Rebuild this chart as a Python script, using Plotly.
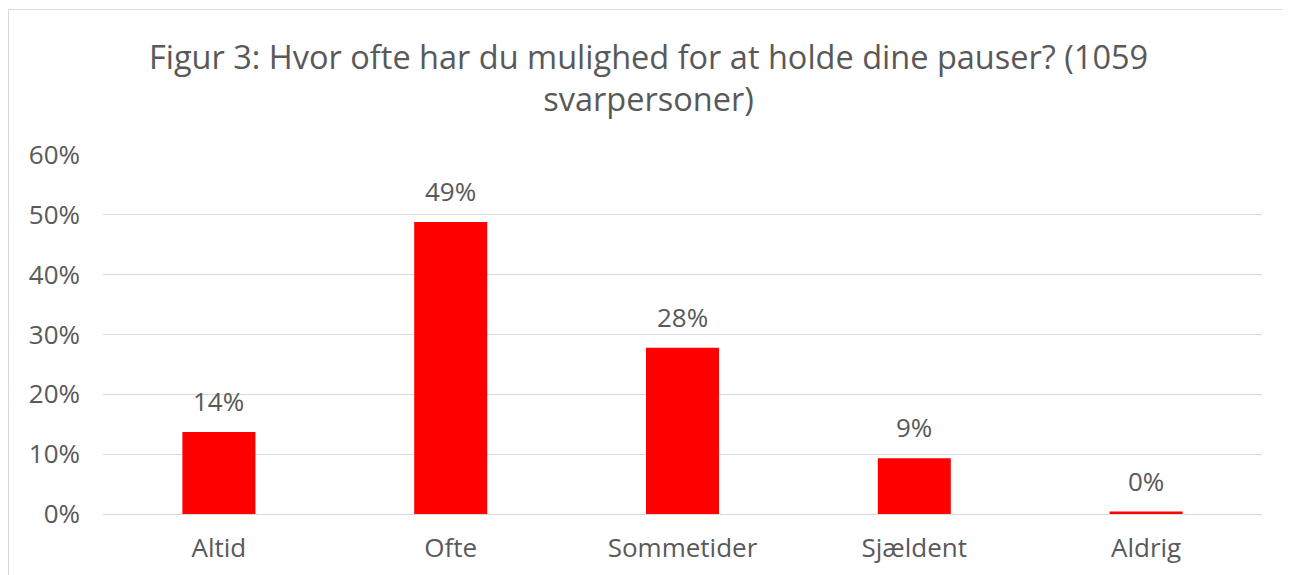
import plotly.graph_objects as go

categories = ["Altid", "Ofte", "Sommetider", "Sjældent", "Aldrig"]
values = [13.7, 48.8, 27.8, 9.3, 0.4]
y_ticks = [0, 10, 20, 30, 40, 50, 60]
y_tick_labels = ["0%", "10%", "20%", "30%", "40%", "50%", "60%"]
title_text = "Figur 3: Hvor ofte har du mulighed for at holde dine pauser? (1059<br>svarpersoner)"

TXT = "#595959"
FONT = "Open Sans"

# plot area in figure pixels
L, R, T, B = 95, 36, 147, 69
W, H = 1290, 575
PW, PH = W - L - R, H - T - B

fig = go.Figure(go.Bar(
    x=categories,
    y=values,
    marker=dict(color="#FF0000", line=dict(width=0)),
    cliponaxis=False,
    width=0.315,
    hoverinfo="x+y",
))

annotations = [
    dict(x=c, y=v, xref="x", yref="y", text=f"{round(v):d}%", showarrow=False,
         yanchor="bottom", xanchor="center", yshift=11,
         font=dict(family=FONT, size=26, color=TXT))
    for c, v in zip(categories, values)
]
annotations.append(dict(
    text=title_text, xref="paper", yref="paper",
    x=(640 - L) / PW, y=(H - B - 69.5) / PH, xanchor="center", yanchor="middle",
    showarrow=False, font=dict(family=FONT, size=32.5, color=TXT)))

fig.update_layout(
    width=W, height=H,
    margin=dict(l=L, r=R, t=T, b=B),
    paper_bgcolor="white", plot_bgcolor="white",
    showlegend=False,
    font=dict(family=FONT, color=TXT),
    xaxis=dict(showgrid=False, showline=False, ticks="", zeroline=False,
               tickfont=dict(family=FONT, size=26, color=TXT), ticklabelstandoff=16),
    yaxis=dict(range=[0, 60], tickvals=y_ticks, ticktext=y_tick_labels,
               showgrid=True, gridcolor="#d9d9d9", gridwidth=1,
               zeroline=True, zerolinecolor="#d9d9d9", zerolinewidth=1,
               showline=False, ticks="",
               tickfont=dict(family=FONT, size=26, color=TXT), ticklabelstandoff=22),
    annotations=annotations,
    shapes=[dict(type="rect", xref="paper", yref="paper",
                 x0=(0.5 - L) / PW, x1=1.2, y0=-0.5, y1=(H - B - 1.5) / PH,
                 line=dict(color="#d9d9d9", width=1), fillcolor="rgba(0,0,0,0)", layer="below")],
)

fig.write_html("out.html")
